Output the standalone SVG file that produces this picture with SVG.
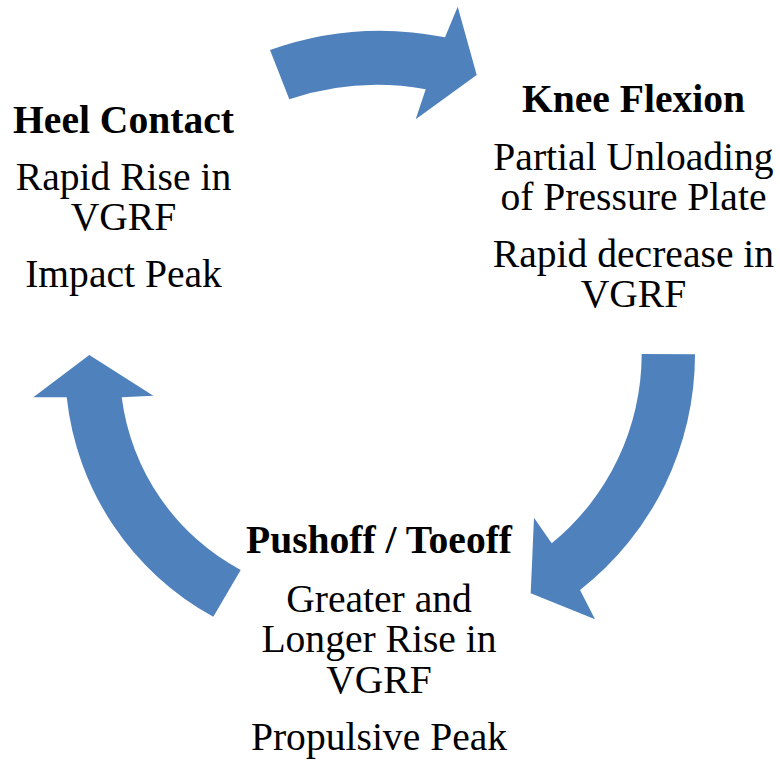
<svg xmlns="http://www.w3.org/2000/svg" width="780" height="761" viewBox="0 0 780 761">
  <style>
    .arrow { fill: #4F81BD; stroke: none; }
    text { font-family: 'Liberation Serif', 'DejaVu Serif', serif; font-size: 39.6px; fill: #000000; text-anchor: middle; }
    .title { font-weight: bold; }
  </style>
  <rect width="780" height="761" fill="#ffffff"/>

  <!-- circular block arrows linking the phases -->
  <g id="connectors">
    <path class="arrow" d="M 270,50 A 329 329 0 0 1 445,37.3 L 457.7,6.7 L 476.7,75 L 415.7,119.3 L 425.7,89.3 A 275 275 0 0 0 289.3,99.3 Z"/>
    <path class="arrow" d="M 641.7,354 L 695,354.3 A 299 299 0 0 1 580,590 L 595,619.3 L 530.7,593.3 L 534,517.7 L 551.7,543.3 A 245 245 0 0 0 641.7,354 Z"/>
    <path class="arrow" d="M 213.3,616.7 A 285 285 0 0 1 66.7,397.3 L 33.3,397.3 L 89.3,355 L 153.3,395.7 L 121.7,397.3 A 229 229 0 0 0 240.7,570 Z"/>
  </g>

  <g id="heel-contact">
    <text class="title" x="123.5" y="133.3">Heel Contact</text>
    <text x="123.5" y="190">Rapid Rise in</text>
    <text x="123.5" y="230">VGRF</text>
    <text x="123.5" y="286.7">Impact Peak</text>
  </g>

  <g id="knee-flexion">
    <text class="title" x="633.5" y="111.7">Knee Flexion</text>
    <text x="633.5" y="170">Partial Unloading</text>
    <text x="633.5" y="210">of Pressure Plate</text>
    <text x="633.5" y="266.7">Rapid decrease in</text>
    <text x="633.5" y="306.7">VGRF</text>
  </g>

  <g id="pushoff-toeoff">
    <text class="title" x="379" y="553.3">Pushoff / Toeoff</text>
    <text x="379" y="611.7">Greater and</text>
    <text x="379" y="651.7">Longer Rise in</text>
    <text x="379" y="692.7">VGRF</text>
    <text x="379" y="750">Propulsive Peak</text>
  </g>
</svg>
